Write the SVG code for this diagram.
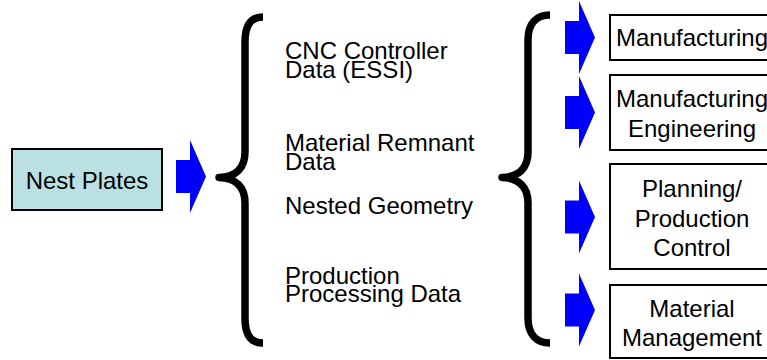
<svg xmlns="http://www.w3.org/2000/svg" width="767" height="360" viewBox="0 0 767 360">
<style>
  text { font-family: "Liberation Sans", Arial, sans-serif; font-size: 24px; fill: #000; }
  .c { text-anchor: middle; }
  .box { fill: #fff; stroke: #000; stroke-width: 2; }
  .brace { fill: none; stroke: #000; stroke-width: 7.5; stroke-linejoin: round; stroke-linecap: butt; }
  .arrow { fill: #0000FF; stroke: none; }
</style>
<defs>
  <path id="arr" d="M0,-16.5 L14,-16.5 L14,-36.5 L30,0 L14,36.5 L14,16.5 L0,16.5 Z"/>
</defs>
<rect width="767" height="360" fill="#fff"/>

<g id="nest-plates">
  <rect x="12" y="149" width="150" height="61" fill="#BAE0E3" stroke="#000" stroke-width="2"/>
  <text class="c" x="87" y="189">Nest Plates</text>
</g>

<g id="data-list">
  <text x="285" y="59">CNC Controller<tspan x="285" y="78">Data (ESSI)</tspan></text>
  <text x="285" y="151">Material Remnant<tspan x="285" y="169.5">Data</tspan></text>
  <text x="285" y="213.5">Nested Geometry</text>
  <text x="285" y="283.5">Production<tspan x="285" y="302">Processing Data</tspan></text>
</g>

<g id="manufacturing">
  <rect class="box" x="610" y="15" width="170" height="45"/>
  <text class="c" x="692" y="46">Manufacturing</text>
</g>

<g id="manufacturing-engineering">
  <rect class="box" x="610" y="75" width="170" height="75"/>
  <text class="c" x="692" y="106.5">Manufacturing<tspan x="692" y="136.5">Engineering</tspan></text>
</g>

<g id="planning-production-control">
  <rect class="box" x="610" y="164" width="170" height="105"/>
  <text class="c" x="692" y="196.5">Planning/<tspan x="692" y="226.5">Production</tspan><tspan x="692" y="256">Control</tspan></text>
</g>

<g id="material-management">
  <rect class="box" x="610" y="285" width="170" height="73"/>
  <text class="c" x="692" y="316.5">Material<tspan x="692" y="346">Management</tspan></text>
</g>

<g id="connectors">
  <use href="#arr" class="arrow" transform="translate(176,176.5)"/>
  <path class="brace" d="M263,17 C251,17 245,25 245,42 L245,152 C245,168 236,177 219,177.5 C236,178 245,187 245,203 L245,318 C245,335 251,343 263,343"/>
  <path class="brace" d="M550,15 C537,15 528,23 528,40 L528,152 C528,168 519,177 502,177.5 C519,178 528,187 528,203 L528,318 C528,335 537,343 550,343"/>
  <use href="#arr" class="arrow" transform="translate(565,37.5)"/>
  <use href="#arr" class="arrow" transform="translate(565,112.5)"/>
  <use href="#arr" class="arrow" transform="translate(565,217)"/>
  <use href="#arr" class="arrow" transform="translate(565,310)"/>
</g>
</svg>
